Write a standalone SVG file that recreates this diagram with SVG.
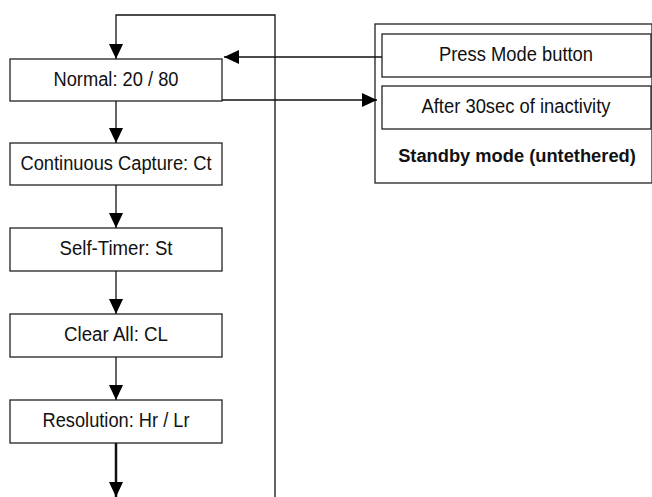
<svg xmlns="http://www.w3.org/2000/svg" width="652" height="497" viewBox="0 0 652 497">
<defs>
<style>
.box{fill:#fff;stroke:#222;stroke-width:1.3}
.lbl{font-family:"Liberation Sans",Arial,sans-serif;font-size:20px;fill:#111;text-anchor:middle}
.bold{font-weight:bold;font-size:18.3px}
.con{fill:none;stroke:#111;stroke-width:1.3}
</style>
<marker id="ah" markerUnits="userSpaceOnUse" viewBox="0 0 15 14" markerWidth="15" markerHeight="14" refX="15" refY="7" orient="auto">
<path d="M0,0 L15,7 L0,14 z" fill="#000"/>
</marker>
</defs>
<rect width="652" height="497" fill="#fff"/>
<g id="standby">
<rect class="box" x="375" y="24" width="277" height="159"/>
<text class="lbl bold" x="517" y="162">Standby mode (untethered)</text>
</g>
<g id="press-mode">
<rect class="box" x="382" y="34" width="269" height="43"/>
<text class="lbl" x="516" y="61" textLength="154" lengthAdjust="spacingAndGlyphs">Press Mode button</text>
</g>
<g id="after-30sec">
<rect class="box" x="382" y="86" width="269" height="43"/>
<text class="lbl" x="516" y="113" textLength="189" lengthAdjust="spacingAndGlyphs">After 30sec of inactivity</text>
</g>
<g id="normal">
<rect class="box" x="10" y="59" width="212" height="42"/>
<text class="lbl" x="116" y="86" textLength="125" lengthAdjust="spacingAndGlyphs">Normal: 20 / 80</text>
</g>
<g id="continuous">
<rect class="box" x="10" y="143" width="212" height="42"/>
<text class="lbl" x="116" y="170" textLength="191" lengthAdjust="spacingAndGlyphs">Continuous Capture: Ct</text>
</g>
<g id="self-timer">
<rect class="box" x="10" y="228" width="212" height="43"/>
<text class="lbl" x="116" y="255" textLength="113" lengthAdjust="spacingAndGlyphs">Self-Timer: St</text>
</g>
<g id="clear-all">
<rect class="box" x="10" y="314" width="212" height="43"/>
<text class="lbl" x="116" y="341" textLength="104" lengthAdjust="spacingAndGlyphs">Clear All: CL</text>
</g>
<g id="resolution">
<rect class="box" x="10" y="400" width="212" height="43"/>
<text class="lbl" x="116" y="427" textLength="147" lengthAdjust="spacingAndGlyphs">Resolution: Hr / Lr</text>
</g>
<g id="connectors">
<path class="con" d="M275,497 L275,15 L116,15 L116,59" marker-end="url(#ah)"/>
<path class="con" d="M382,57 L224,57" marker-end="url(#ah)"/>
<path class="con" d="M222,100 L377,100" marker-end="url(#ah)"/>
<path class="con" d="M116,101 L116,143" marker-end="url(#ah)"/>
<path class="con" d="M116,185 L116,228" marker-end="url(#ah)"/>
<path class="con" d="M116,271 L116,314" marker-end="url(#ah)"/>
<path class="con" d="M116,357 L116,400" marker-end="url(#ah)"/>
<path class="con" style="stroke-width:2.5" d="M116,443 L116,497" marker-end="url(#ah)"/>
</g>
</svg>
